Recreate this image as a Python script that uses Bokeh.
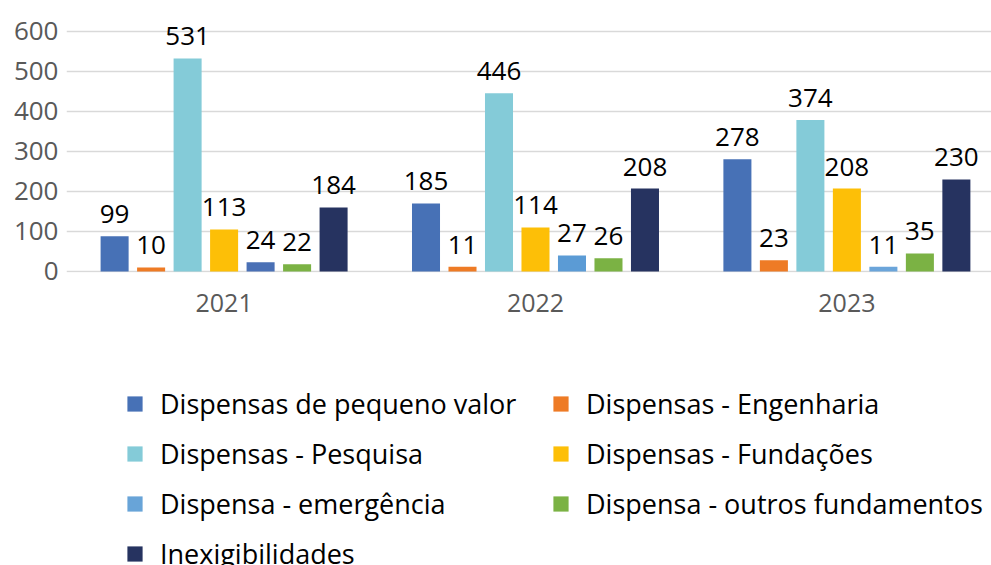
from bokeh.plotting import figure
from bokeh.layouts import column
from bokeh.models import ColumnDataSource, Range1d, Legend, LegendItem, FixedTicker, LabelSet
from bokeh.transform import dodge
from bokeh.core.properties import value
from bokeh.embed import file_html
from bokeh.resources import INLINE

# ---------------- data ----------------
years = ["2021", "2022", "2023"]
series_names = [
    "Dispensas de pequeno valor",
    "Dispensas - Engenharia",
    "Dispensas - Pesquisa",
    "Dispensas - Fundações",
    "Dispensa - emergência",
    "Dispensa - outros fundamentos",
    "Inexigibilidades",
]

# values written on the chart
pequeno_valor = [99, 185, 278]
engenharia = [10, 11, 23]
pesquisa = [531, 446, 374]
fundacoes = [113, 114, 208]
emergencia = [24, 27, 11]
outros_fundamentos = [22, 26, 35]
inexigibilidades = [184, 208, 230]

# bar heights as drawn in the picture
pequeno_valor_bar = [88, 170, 280]
engenharia_bar = [10, 12, 28]
pesquisa_bar = [532, 445, 378]
fundacoes_bar = [105, 110, 207]
emergencia_bar = [23, 40, 12]
outros_fundamentos_bar = [18, 33, 45]
inexigibilidades_bar = [160, 207, 230]

y_ticks = [0, 100, 200, 300, 400, 500, 600]

labels_all = [pequeno_valor, engenharia, pesquisa, fundacoes, emergencia,
              outros_fundamentos, inexigibilidades]
bars_all = [pequeno_valor_bar, engenharia_bar, pesquisa_bar, fundacoes_bar,
            emergencia_bar, outros_fundamentos_bar, inexigibilidades_bar]

# ---------------- style ----------------
series_colors = ["#4771B6", "#EE7B25", "#84CBD8", "#FDBF07", "#5B9BD5", "#7BB244", "#263360"]
legend_colors = ["#4771B6", "#EE7B25", "#84CBD8", "#FDBF07", "#68A4D8", "#7BB244", "#263360"]
emergencia_colors = ["#4A70B5", "#5B9BD5", "#6BA5DA"]
GREY = "#595959"
step = 0.1172
bar_w = 0.09

p = figure(width=991, height=330, output_backend="svg", toolbar_location=None,
           x_range=Range1d(-0.5061, 2.4644), y_range=Range1d(-2.5, 631.7),
           min_border_left=66, min_border_right=0, min_border_top=18,
           min_border_bottom=58)
p.outline_line_color = None
p.background_fill_color = "white"
p.border_fill_color = "white"

p.xgrid.grid_line_color = None
p.ygrid.ticker = FixedTicker(ticks=y_ticks)
p.ygrid.grid_line_color = "#D9D9D9"
p.ygrid.grid_line_width = 1.5

p.yaxis.ticker = FixedTicker(ticks=y_ticks)
p.yaxis.axis_line_color = None
p.yaxis.major_tick_line_color = None
p.yaxis.minor_tick_line_color = None
p.yaxis.major_label_text_font = "Open Sans"
p.yaxis.major_label_text_font_size = "26px"
p.yaxis.major_label_text_color = GREY
p.yaxis.major_label_standoff = 2

p.xaxis.ticker = FixedTicker(ticks=list(range(len(years))))
p.xaxis.major_label_overrides = {i: y for i, y in enumerate(years)}
p.xaxis.axis_line_color = None
p.xaxis.major_tick_line_color = None
p.xaxis.minor_tick_line_color = None
p.xaxis.major_label_text_font = "Open Sans"
p.xaxis.major_label_text_font_size = "25px"
p.xaxis.major_label_text_color = GREY
p.xaxis.major_label_standoff = 15

n = len(series_names)
for i, name in enumerate(series_names):
    off = (i - (n - 1) / 2) * step
    cols = emergencia_colors if i == 4 else [series_colors[i]] * len(years)
    src = ColumnDataSource(dict(
        x=list(range(len(years))),
        top=bars_all[i],
        label=[str(v) for v in labels_all[i]],
        color=cols,
    ))
    p.vbar(x=dodge("x", off), top="top", bottom=0, width=bar_w,
           fill_color="color", line_color=None, source=src)
    p.add_layout(LabelSet(x=dodge("x", off), y="top", text="label", source=src,
                          text_align="center", text_baseline="alphabetic",
                          y_offset=13, text_font=value("Open Sans"),
                          text_font_size="26px", text_color="#000000"))

# ---------------- legend panel ----------------
pl = figure(width=991, height=235, output_backend="svg", toolbar_location=None,
            x_axis_type=None, y_axis_type=None, x_range=Range1d(0, 1), y_range=Range1d(0, 1),
            min_border_left=0, min_border_right=0, min_border_top=0, min_border_bottom=0)
pl.outline_line_color = None
pl.xgrid.grid_line_color = None
pl.ygrid.grid_line_color = None
items = []
for i, name in enumerate(series_names):
    # legend swatch only: a single out-of-view bar so that the swatch is drawn
    r = pl.vbar(x=[5], top=[0], width=0.1, fill_color=legend_colors[i], line_color=None)
    items.append(LegendItem(label=name, renderers=[r]))

legend = Legend(items=items, location=(59, -7), orientation="horizontal", ncols=2,
                glyph_width=19, glyph_height=19, label_standoff=16, spacing=13,
                padding=0, margin=0, label_height=24, label_width=378,
                label_text_font="Open Sans", label_text_font_size="27px",
                label_text_color="#000000", label_text_baseline="middle",
                border_line_color=None, background_fill_alpha=0)
pl.add_layout(legend, "center")

layout = column(p, pl, spacing=0)

with open("out.html", "w") as f:
    f.write(file_html(layout, INLINE))
